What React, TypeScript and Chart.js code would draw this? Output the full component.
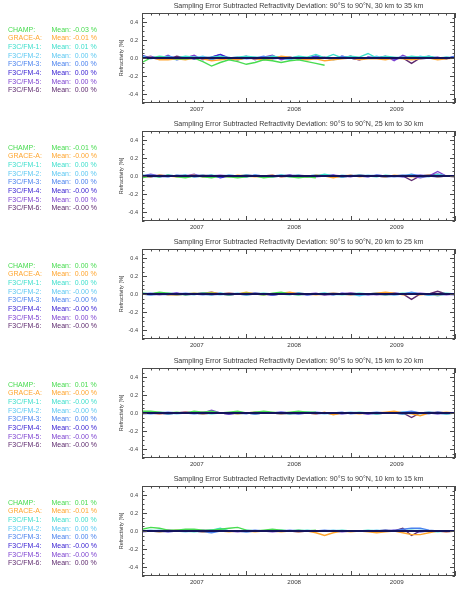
import { useEffect, useRef } from 'react';
import { Chart, registerables } from 'chart.js';

Chart.register(...registerables);

// ---- data -------------------------------------------------------------

const SERIES_NAMES = ['CHAMP:', 'GRACE-A:', 'F3C/FM-1:', 'F3C/FM-2:', 'F3C/FM-3:', 'F3C/FM-4:', 'F3C/FM-5:', 'F3C/FM-6:'];
const SERIES_COLORS = ['#48dc50', '#ffa52e', '#3edfcc', '#5cc8f2', '#4a82ee', '#3a22d2', '#7d42d0', '#5e2a6e'];

const LAYER_TITLES = [
  'Sampling Error Subtracted Refractivity Deviation: 90°S to 90°N, 30 km to 35 km',
  'Sampling Error Subtracted Refractivity Deviation: 90°S to 90°N, 25 km to 30 km',
  'Sampling Error Subtracted Refractivity Deviation: 90°S to 90°N, 20 km to 25 km',
  'Sampling Error Subtracted Refractivity Deviation: 90°S to 90°N, 15 km to 20 km',
  'Sampling Error Subtracted Refractivity Deviation: 90°S to 90°N, 10 km to 15 km',
];

// month index along the time axis (0 = mid 2006, 36 = mid 2009)
const X_MIN = 0;
const X_MAX = 36;
const YEAR_LABELS = ['2007', '2008', '2009'];
const YEAR_LABEL_POS = [6.3, 17.5, 29.3];
const Y_TICKS = [-0.4, -0.2, 0.0, 0.2, 0.4];

// mean deviation text per layer, in series order
const MEANS_30_35 = ['-0.03', '-0.01', ' 0.01', ' 0.00', ' 0.00', ' 0.00', ' 0.00', ' 0.00'];
const MEANS_25_30 = ['-0.01', '-0.00', ' 0.00', ' 0.00', ' 0.00', '-0.00', ' 0.00', '-0.00'];
const MEANS_20_25 = [' 0.00', ' 0.00', ' 0.00', '-0.00', '-0.00', '-0.00', ' 0.00', '-0.00'];
const MEANS_15_20 = [' 0.01', '-0.00', '-0.00', '-0.00', ' 0.00', '-0.00', '-0.00', '-0.00'];
const MEANS_10_15 = [' 0.01', '-0.01', ' 0.00', ' 0.00', ' 0.00', '-0.00', '-0.00', ' 0.00'];

// 30 km to 35 km
const champ_30_35 = [-0.05, 0.00, 0.01, 0.00, -0.01, -0.01, 0.00, -0.04, -0.09, -0.05, -0.02, -0.04, -0.07, -0.05, -0.02, -0.03, -0.05, -0.03, -0.02, -0.04, -0.06, -0.08];
const grace_30_35 = [0.00, 0.01, -0.02, -0.02, -0.01, -0.02, 0.00, -0.01, -0.03, -0.02, -0.01, -0.02, 0.00, -0.01, -0.02, -0.01, 0.02, 0.01, -0.01, -0.02, -0.01, -0.03, -0.02, -0.01, 0.00, -0.02, -0.01, -0.01, -0.02, 0.00, -0.01, -0.02, -0.01, 0.00, -0.02, -0.01, 0.00];
const fm1_30_35 = [0.01, 0.00, 0.02, 0.01, 0.00, 0.02, 0.01, 0.00, 0.01, 0.02, 0.00, 0.01, 0.02, 0.01, 0.00, 0.02, 0.01, 0.00, 0.02, 0.01, 0.04, 0.00, 0.04, 0.00, 0.02, 0.01, 0.05, 0.00, 0.02, 0.01, 0.00, 0.02, 0.01, 0.02, 0.00, 0.01, 0.00];
const fm2_30_35 = [0.02, -0.01, 0.01, 0.00, -0.02, 0.01, 0.00, 0.02, -0.01, 0.00, 0.01, -0.02, 0.00, 0.01, -0.01, 0.02, 0.00, -0.02, 0.01, 0.00, -0.01, 0.01, -0.02, 0.00, 0.01, -0.01, 0.00, 0.02, -0.01, 0.00, 0.01, -0.01, 0.02, 0.00, -0.01, 0.01, 0.00];
const fm3_30_35 = [0.00, 0.01, -0.01, 0.02, 0.00, -0.01, 0.01, 0.00, -0.02, 0.01, 0.00, 0.01, -0.01, 0.00, 0.02, -0.01, 0.00, 0.01, -0.01, 0.00, 0.01, 0.00, -0.01, 0.02, 0.00, -0.01, 0.00, 0.01, -0.01, 0.00, 0.01, -0.01, 0.00, 0.01, 0.00, -0.01, 0.02];
const fm4_30_35 = [0.03, 0.00, -0.01, 0.01, 0.00, 0.01, -0.01, 0.00, 0.01, 0.04, 0.00, -0.02, 0.01, 0.00, -0.01, 0.01, 0.00, 0.01, -0.01, 0.00, 0.02, 0.00, -0.01, 0.01, 0.00, -0.02, 0.01, 0.00, 0.01, -0.01, 0.00, 0.01, -0.01, 0.00, 0.01, -0.01, 0.02];
const fm5_30_35 = [0.00, 0.02, -0.01, 0.03, -0.02, 0.00, 0.03, -0.02, 0.01, 0.04, -0.01, 0.00, 0.02, -0.02, 0.01, 0.03, -0.02, 0.00, 0.01, -0.01, 0.02, 0.00, -0.01, 0.02, 0.00, -0.02, 0.01, 0.00, 0.02, -0.03, 0.03, -0.01, 0.00, 0.02, -0.01, 0.00, 0.01];
const fm6_30_35 = [0.00, 0.01, 0.00, -0.01, 0.02, 0.00, -0.01, 0.01, 0.00, 0.01, -0.01, 0.00, 0.01, -0.01, 0.00, 0.02, 0.00, -0.01, 0.01, 0.00, 0.00, 0.01, -0.01, 0.00, 0.02, -0.01, 0.00, 0.00, 0.01, -0.01, 0.00, -0.06, 0.00, 0.01, -0.01, 0.00, 0.01];

// 25 km to 30 km
const champ_25_30 = [-0.02, 0.00, -0.01, 0.01, -0.01, -0.02, 0.00, -0.01, -0.02, 0.00, -0.01, -0.02, -0.01, 0.00, -0.02, -0.01, 0.00, -0.01, -0.02, -0.01, -0.02];
const grace_25_30 = [0.00, -0.01, 0.01, 0.00, -0.01, 0.00, 0.01, -0.01, 0.00, 0.00, -0.01, 0.01, 0.00, -0.01, 0.00, 0.01, -0.01, 0.00, 0.00, -0.01, 0.01, 0.00, -0.02, 0.00, 0.01, -0.01, 0.00, 0.00, -0.01, 0.01, 0.00, -0.01, 0.00, 0.01, -0.01, 0.00, 0.00];
const fm1_25_30 = [0.01, 0.00, -0.01, 0.01, 0.00, 0.01, -0.01, 0.00, 0.01, 0.00, -0.01, 0.00, 0.01, 0.00, 0.00, -0.01, 0.01, 0.00, 0.01, -0.01, 0.00, 0.02, 0.00, -0.01, 0.00, 0.01, 0.00, -0.01, 0.01, 0.00, 0.00, 0.01, -0.01, 0.00, 0.01, 0.00, 0.00];
const fm2_25_30 = [0.00, 0.01, 0.00, -0.01, 0.01, 0.00, 0.00, 0.01, -0.01, 0.00, 0.01, 0.00, -0.01, 0.01, 0.00, 0.00, 0.01, -0.01, 0.00, 0.00, 0.01, 0.00, -0.01, 0.01, 0.00, 0.00, 0.01, 0.00, -0.01, 0.00, 0.01, 0.00, 0.00, -0.01, 0.02, 0.00, 0.00];
const fm3_25_30 = [0.01, -0.01, 0.00, 0.01, 0.00, -0.01, 0.01, 0.00, 0.00, -0.01, 0.01, 0.00, 0.00, 0.01, -0.01, 0.00, 0.01, 0.00, -0.01, 0.00, 0.01, 0.00, 0.00, -0.01, 0.01, 0.00, 0.00, 0.01, 0.00, -0.01, 0.00, 0.02, 0.00, 0.01, -0.01, 0.00, 0.00];
const fm4_25_30 = [0.00, 0.01, -0.01, 0.00, 0.00, 0.01, -0.01, 0.00, 0.01, -0.02, 0.00, 0.00, -0.01, 0.01, 0.00, -0.01, 0.00, 0.01, 0.00, -0.01, 0.00, 0.00, 0.01, -0.01, 0.00, 0.00, -0.01, 0.01, 0.00, 0.00, -0.01, 0.00, 0.01, 0.00, -0.01, 0.00, 0.00];
const fm5_25_30 = [0.00, 0.02, 0.00, -0.01, 0.01, 0.00, 0.02, -0.01, 0.00, 0.01, 0.00, -0.01, 0.01, 0.00, 0.00, 0.01, -0.01, 0.00, 0.01, 0.00, -0.01, 0.00, 0.01, 0.00, -0.01, 0.01, 0.00, 0.00, -0.01, 0.00, 0.01, 0.00, -0.02, 0.00, 0.05, 0.00, 0.00];
const fm6_25_30 = [0.00, -0.01, 0.01, 0.00, 0.00, -0.01, 0.00, 0.01, 0.00, -0.01, 0.00, 0.00, 0.01, 0.00, -0.01, 0.00, 0.00, 0.01, -0.01, 0.00, 0.00, 0.01, 0.00, -0.01, 0.00, 0.01, 0.00, 0.00, -0.01, 0.00, 0.00, -0.05, 0.00, 0.01, 0.02, 0.00, -0.01];

// 20 km to 25 km
const champ_20_25 = [0.01, 0.00, 0.02, 0.01, 0.00, -0.01, 0.00, 0.01, 0.01, 0.00, -0.01, 0.00, 0.01, 0.00, -0.01, 0.01, 0.02, 0.00, -0.01, 0.00, 0.00];
const grace_20_25 = [0.00, 0.00, 0.01, -0.01, -0.01, 0.00, 0.01, 0.00, 0.02, 0.00, 0.01, 0.00, 0.02, 0.00, -0.01, 0.00, 0.01, 0.02, 0.00, 0.00, -0.01, 0.00, 0.01, 0.00, -0.01, 0.00, 0.00, 0.01, 0.02, 0.01, -0.01, 0.00, -0.01, 0.00, -0.01, 0.00, 0.00];
const fm1_20_25 = [0.01, 0.00, 0.01, 0.00, -0.01, 0.00, 0.01, 0.00, -0.01, 0.01, 0.00, 0.00, -0.01, 0.00, 0.01, 0.00, 0.00, -0.01, 0.01, 0.00, 0.00, 0.01, 0.00, -0.01, 0.00, 0.01, 0.00, 0.00, -0.01, 0.00, 0.01, 0.00, 0.00, -0.01, 0.00, 0.01, 0.00];
const fm2_20_25 = [0.00, -0.01, 0.00, 0.01, 0.00, 0.00, -0.01, 0.01, 0.00, -0.01, 0.00, 0.01, 0.00, 0.00, -0.01, 0.00, 0.01, 0.00, -0.01, 0.00, 0.00, 0.01, -0.01, 0.00, 0.00, -0.02, 0.00, 0.01, 0.00, -0.01, 0.00, 0.01, 0.00, 0.00, -0.02, 0.00, 0.00];
const fm3_20_25 = [0.00, 0.01, 0.00, -0.01, 0.00, 0.01, 0.00, -0.01, 0.00, 0.01, -0.01, 0.00, 0.00, 0.01, 0.00, -0.01, 0.00, 0.00, 0.01, -0.01, 0.00, 0.00, 0.01, 0.00, -0.01, 0.00, 0.00, 0.01, 0.00, -0.01, 0.00, 0.02, 0.00, -0.01, 0.00, 0.00, 0.00];
const fm4_20_25 = [0.00, -0.01, 0.00, 0.00, 0.01, -0.01, 0.00, 0.00, -0.01, 0.00, 0.01, 0.00, -0.01, 0.00, 0.00, -0.01, 0.00, 0.01, 0.00, -0.01, 0.00, 0.00, -0.01, 0.01, 0.00, 0.00, -0.01, 0.00, 0.00, 0.01, 0.00, 0.01, 0.00, -0.01, 0.00, 0.00, -0.01];
const fm5_20_25 = [0.00, 0.00, -0.01, 0.00, 0.01, 0.00, 0.00, 0.01, 0.02, 0.00, -0.01, 0.00, 0.01, 0.00, 0.00, -0.01, 0.00, 0.01, 0.00, 0.00, 0.01, -0.01, 0.00, 0.00, 0.01, 0.00, 0.00, -0.01, 0.00, 0.01, 0.00, 0.00, 0.01, 0.00, 0.00, -0.01, 0.00];
const fm6_20_25 = [0.00, 0.00, 0.01, 0.00, -0.01, 0.00, 0.00, 0.01, 0.00, 0.00, -0.01, 0.00, 0.00, 0.01, 0.00, -0.01, 0.00, 0.00, 0.01, 0.00, 0.00, -0.01, 0.00, 0.00, 0.01, 0.00, 0.00, 0.00, -0.01, 0.00, 0.00, -0.06, 0.00, 0.00, 0.03, 0.00, 0.00];

// 15 km to 20 km
const champ_15_20 = [0.02, 0.02, 0.01, 0.00, 0.01, 0.00, 0.02, 0.01, 0.02, 0.00, 0.01, 0.02, 0.00, 0.01, 0.02, 0.01, 0.00, 0.01, 0.02, 0.01, 0.01];
const grace_15_20 = [0.00, 0.00, -0.01, 0.00, 0.00, 0.01, 0.00, -0.01, 0.00, 0.00, 0.00, -0.01, 0.00, 0.01, 0.00, 0.00, -0.01, 0.00, 0.00, 0.00, -0.01, 0.01, -0.02, 0.00, 0.00, -0.01, 0.00, 0.00, 0.01, 0.02, 0.00, -0.01, -0.03, 0.00, 0.00, 0.01, 0.00];
const fm1_15_20 = [0.00, 0.01, 0.00, -0.01, 0.00, 0.00, 0.01, 0.00, -0.01, 0.00, 0.00, 0.01, 0.00, -0.01, 0.00, 0.00, 0.00, -0.01, 0.00, 0.01, 0.00, 0.00, -0.01, 0.00, 0.00, 0.01, 0.00, -0.01, 0.00, 0.00, -0.01, 0.00, 0.00, 0.01, 0.00, -0.01, 0.00];
const fm2_15_20 = [0.00, 0.00, 0.01, 0.00, -0.01, 0.00, 0.00, -0.01, 0.01, 0.00, 0.00, -0.01, 0.00, 0.00, 0.01, 0.00, -0.01, 0.00, 0.00, 0.01, 0.00, -0.01, 0.00, 0.00, 0.01, 0.00, 0.00, -0.01, 0.00, 0.00, 0.01, 0.00, -0.01, 0.00, 0.00, -0.01, 0.00];
const fm3_15_20 = [0.00, -0.01, 0.00, 0.01, 0.00, 0.00, -0.01, 0.00, 0.01, 0.00, 0.00, 0.00, -0.01, 0.01, 0.00, 0.00, 0.01, 0.00, -0.01, 0.00, 0.01, 0.00, 0.00, 0.01, -0.01, 0.00, 0.00, 0.01, 0.00, 0.00, 0.01, 0.02, 0.00, -0.01, 0.01, 0.00, 0.00];
const fm4_15_20 = [-0.01, 0.00, 0.00, -0.01, 0.00, 0.01, 0.00, -0.01, 0.00, 0.00, -0.01, 0.00, 0.00, -0.01, 0.00, 0.00, -0.01, 0.00, 0.01, 0.00, -0.01, 0.00, 0.00, -0.01, 0.00, 0.00, -0.01, 0.00, 0.00, 0.00, -0.01, 0.01, 0.00, 0.00, -0.01, 0.00, 0.00];
const fm5_15_20 = [0.00, 0.00, -0.01, 0.00, 0.00, 0.01, 0.00, 0.00, 0.03, 0.00, -0.01, 0.00, 0.00, -0.01, 0.00, 0.00, 0.01, 0.00, -0.01, 0.00, 0.00, 0.00, -0.01, 0.00, 0.00, 0.00, -0.01, 0.00, 0.00, 0.00, -0.01, 0.00, 0.00, 0.01, 0.00, -0.01, 0.00];
const fm6_15_20 = [0.00, 0.00, 0.00, -0.01, 0.00, 0.00, 0.00, 0.01, 0.00, 0.00, -0.01, 0.00, 0.00, 0.00, 0.01, 0.00, 0.00, -0.01, 0.00, 0.00, 0.00, 0.00, -0.01, 0.00, 0.00, 0.00, 0.00, -0.01, 0.00, 0.00, 0.00, -0.05, 0.00, 0.00, 0.01, 0.00, 0.00];

// 10 km to 15 km
const champ_10_15 = [0.02, 0.04, 0.03, 0.01, 0.01, 0.02, 0.02, 0.01, 0.01, 0.02, 0.03, 0.04, 0.01, 0.00, 0.01, 0.02, 0.01, 0.00, 0.01, 0.00, 0.01];
const grace_10_15 = [0.00, 0.00, -0.01, 0.00, 0.01, 0.00, 0.00, -0.01, 0.00, 0.00, -0.01, 0.00, 0.00, -0.01, 0.00, 0.00, -0.01, 0.00, -0.01, 0.00, -0.02, -0.05, -0.02, 0.00, -0.01, 0.00, -0.01, -0.02, -0.01, 0.00, -0.02, -0.04, -0.04, -0.02, 0.00, -0.01, 0.00];
const fm1_10_15 = [0.00, 0.01, 0.00, 0.00, 0.01, 0.00, -0.01, 0.00, 0.01, 0.03, 0.00, 0.00, 0.01, 0.00, 0.00, 0.00, 0.01, 0.00, 0.00, 0.01, 0.00, 0.00, 0.00, 0.01, 0.00, 0.00, 0.01, 0.00, 0.00, 0.00, 0.00, 0.01, 0.00, 0.00, -0.01, 0.00, 0.00];
const fm2_10_15 = [0.00, 0.00, 0.01, 0.00, 0.00, -0.01, 0.00, 0.00, 0.01, 0.02, 0.00, 0.00, -0.01, 0.00, 0.00, 0.01, 0.00, 0.00, 0.01, 0.00, 0.00, 0.00, 0.01, 0.00, 0.00, 0.00, 0.00, 0.01, 0.00, 0.00, 0.00, 0.00, 0.01, 0.00, 0.00, 0.00, 0.00];
const fm3_10_15 = [0.00, 0.00, -0.01, 0.00, 0.00, 0.00, 0.00, -0.01, -0.02, 0.00, 0.00, 0.00, 0.00, 0.01, 0.00, 0.00, 0.00, 0.01, 0.00, 0.00, 0.00, 0.01, 0.00, 0.00, 0.00, 0.00, 0.00, 0.00, 0.01, 0.00, 0.02, 0.03, 0.03, 0.01, 0.00, 0.00, 0.00];
const fm4_10_15 = [-0.01, 0.00, 0.00, -0.01, 0.00, 0.00, 0.00, -0.01, 0.00, 0.00, 0.00, 0.00, -0.01, 0.00, 0.00, 0.00, 0.00, 0.00, -0.01, 0.00, 0.00, 0.00, 0.00, 0.00, 0.00, 0.00, 0.00, -0.01, 0.00, 0.01, 0.00, 0.00, -0.01, 0.00, 0.00, 0.00, 0.00];
const fm5_10_15 = [0.00, 0.00, 0.00, 0.00, 0.00, 0.00, 0.00, 0.01, 0.00, 0.00, 0.00, -0.01, 0.00, 0.00, 0.00, -0.01, 0.00, 0.00, 0.00, 0.00, 0.00, 0.00, 0.00, -0.01, 0.00, 0.00, 0.00, 0.00, 0.00, 0.00, 0.01, 0.00, 0.00, 0.00, 0.00, -0.01, 0.00];
const fm6_10_15 = [0.00, 0.00, 0.00, 0.01, 0.00, 0.00, 0.00, 0.00, 0.01, 0.00, 0.00, 0.00, 0.00, 0.00, 0.00, 0.00, 0.00, 0.00, 0.00, 0.00, 0.00, 0.00, 0.00, 0.00, 0.00, 0.00, 0.00, 0.00, 0.01, 0.00, 0.03, -0.05, 0.00, 0.00, 0.00, 0.00, 0.00];

const LAYERS = [
  { title: LAYER_TITLES[0], means: MEANS_30_35, series: [champ_30_35, grace_30_35, fm1_30_35, fm2_30_35, fm3_30_35, fm4_30_35, fm5_30_35, fm6_30_35] },
  { title: LAYER_TITLES[1], means: MEANS_25_30, series: [champ_25_30, grace_25_30, fm1_25_30, fm2_25_30, fm3_25_30, fm4_25_30, fm5_25_30, fm6_25_30] },
  { title: LAYER_TITLES[2], means: MEANS_20_25, series: [champ_20_25, grace_20_25, fm1_20_25, fm2_20_25, fm3_20_25, fm4_20_25, fm5_20_25, fm6_20_25] },
  { title: LAYER_TITLES[3], means: MEANS_15_20, series: [champ_15_20, grace_15_20, fm1_15_20, fm2_15_20, fm3_15_20, fm4_15_20, fm5_15_20, fm6_15_20] },
  { title: LAYER_TITLES[4], means: MEANS_10_15, series: [champ_10_15, grace_10_15, fm1_10_15, fm2_10_15, fm3_10_15, fm4_10_15, fm5_10_15, fm6_10_15] },
];

// ---- layout / style ------------------------------------------------------

const FONT = "'Liberation Sans', Arial, Helvetica, sans-serif";
const PANEL_PITCH = 118.2;
const PANEL_H = 118;
const PLOT_LEFT = 142;
const PLOT_RIGHT = 455;
const TEXT_COLOR = '#3a3a3a';
const AXIS_COLOR = '#4a4a4a';
const ZERO_COLOR = '#14145c';

// box, inward tick marks on all four sides, and the thick zero line
const framePlugin = {
  id: 'idlFrame',
  afterDatasetsDraw(chart: any) {
    const { ctx, chartArea: a, scales } = chart;
    const xs = scales.x;
    const ys = scales.y;
    ctx.save();

    const y0 = ys.getPixelForValue(0);
    ctx.beginPath();
    ctx.rect(a.left, a.top, a.right - a.left, a.bottom - a.top);
    ctx.clip();
    ctx.strokeStyle = ZERO_COLOR;
    ctx.lineWidth = 2.2;
    ctx.beginPath();
    ctx.moveTo(a.left, y0);
    ctx.lineTo(a.right, y0);
    ctx.stroke();
    ctx.restore();

    ctx.save();
    ctx.strokeStyle = AXIS_COLOR;
    ctx.lineWidth = 1;
    ctx.strokeRect(Math.round(a.left) + 0.5, Math.round(a.top) + 0.5, Math.round(a.right - a.left) - 1, Math.round(a.bottom - a.top) - 1);

    ctx.beginPath();
    for (let m = X_MIN; m <= X_MAX; m++) {
      const px = Math.round(xs.getPixelForValue(m)) + 0.5;
      const len = m % 12 === 0 ? 5 : 2.5;
      ctx.moveTo(px, a.bottom);
      ctx.lineTo(px, a.bottom - len);
      ctx.moveTo(px, a.top);
      ctx.lineTo(px, a.top + len);
    }
    for (let k = -10; k <= 10; k++) {
      const py = Math.round(ys.getPixelForValue(k * 0.05)) + 0.5;
      const len = k % 4 === 0 ? 5 : 2.5;
      ctx.moveTo(a.left, py);
      ctx.lineTo(a.left + len, py);
      ctx.moveTo(a.right, py);
      ctx.lineTo(a.right - len, py);
    }
    ctx.stroke();
    ctx.restore();
  },
};

function Panel({ index }: { index: number }) {
  const ref = useRef<HTMLCanvasElement | null>(null);
  const layer = LAYERS[index];

  useEffect(() => {
    if (!ref.current) return;
    const datasets = layer.series.map((vals, s) => ({
      label: SERIES_NAMES[s],
      data: vals.map((v, m) => ({ x: m, y: v })),
      borderColor: SERIES_COLORS[s],
      backgroundColor: SERIES_COLORS[s],
      borderWidth: 1.4,
      pointRadius: 0,
      tension: 0,
      fill: false,
    }));

    const chart = new Chart(ref.current, {
      type: 'line',
      data: { datasets },
      options: {
        responsive: false,
        animation: false,
        devicePixelRatio: 1,
        layout: { padding: { left: 113, right: 461 - PLOT_RIGHT, top: 13, bottom: 0 } },
        plugins: {
          legend: { display: false },
          tooltip: { enabled: false },
          title: { display: false },
        },
        scales: {
          x: {
            type: 'linear',
            min: X_MIN,
            max: X_MAX,
            grid: { display: false, drawTicks: false },
            border: { display: false },
            afterBuildTicks: (scale: any) => {
              scale.ticks = YEAR_LABEL_POS.map((v) => ({ value: v }));
            },
            afterFit: (scale: any) => {
              scale.height = 15;
            },
            ticks: {
              autoSkip: false,
              maxRotation: 0,
              padding: 3,
              color: TEXT_COLOR,
              font: { family: FONT, size: 6.2 },
              callback: (_v: any, i: number) => YEAR_LABELS[i],
            },
          },
          y: {
            min: -0.5,
            max: 0.5,
            grid: { display: false, drawTicks: false },
            border: { display: false },
            afterBuildTicks: (scale: any) => {
              scale.ticks = Y_TICKS.map((v) => ({ value: v }));
            },
            afterFit: (scale: any) => {
              scale.width = PLOT_LEFT - 113;
            },
            title: {
              display: true,
              text: 'Refractivity [%]',
              color: TEXT_COLOR,
              font: { family: FONT, size: 5.5 },
              padding: { top: 5.5, bottom: 0 },
            },
            ticks: {
              padding: 4,
              color: TEXT_COLOR,
              font: { family: FONT, size: 5.5 },
              callback: (v: any) => Number(v).toFixed(1),
            },
          },
        },
      } as any,
      plugins: [framePlugin],
    });
    return () => chart.destroy();
  }, [index]);

  const top = Math.round(index * PANEL_PITCH);
  return (
    <div style={{ position: 'absolute', left: 0, top, width: 461, height: PANEL_H }}>
      <canvas
        ref={ref}
        width={461}
        height={PANEL_H}
        style={{ position: 'absolute', left: 0, top: 0, width: 461, height: PANEL_H }}
      />
      <div
        style={{
          position: 'absolute',
          left: PLOT_LEFT - 40,
          width: PLOT_RIGHT - PLOT_LEFT + 80,
          top: 1.8,
          height: 9,
          lineHeight: '9px',
          textAlign: 'center',
          fontFamily: FONT,
          fontSize: 7.1,
          color: TEXT_COLOR,
          whiteSpace: 'pre',
        }}
      >
        {layer.title}
      </div>
      {SERIES_NAMES.map((name, s) => {
        const cy = 29 + s * 8.67;
        const common: any = {
          position: 'absolute',
          top: cy - 4.5,
          height: 9,
          lineHeight: '9px',
          fontFamily: FONT,
          fontSize: 7,
          color: SERIES_COLORS[s],
          whiteSpace: 'pre',
        };
        return (
          <div key={s}>
            <div style={{ ...common, left: 8 }}>{name}</div>
            <div style={{ ...common, left: 51.5 }}>{`Mean: ${layer.means[s]} %`}</div>
          </div>
        );
      })}
    </div>
  );
}

export default function App() {
  return (
    <div style={{ position: 'absolute', left: 0, top: 0, width: 461, height: 590, background: '#ffffff', overflow: 'hidden' }}>
      {LAYERS.map((_, i) => (
        <Panel key={i} index={i} />
      ))}
    </div>
  );
}
